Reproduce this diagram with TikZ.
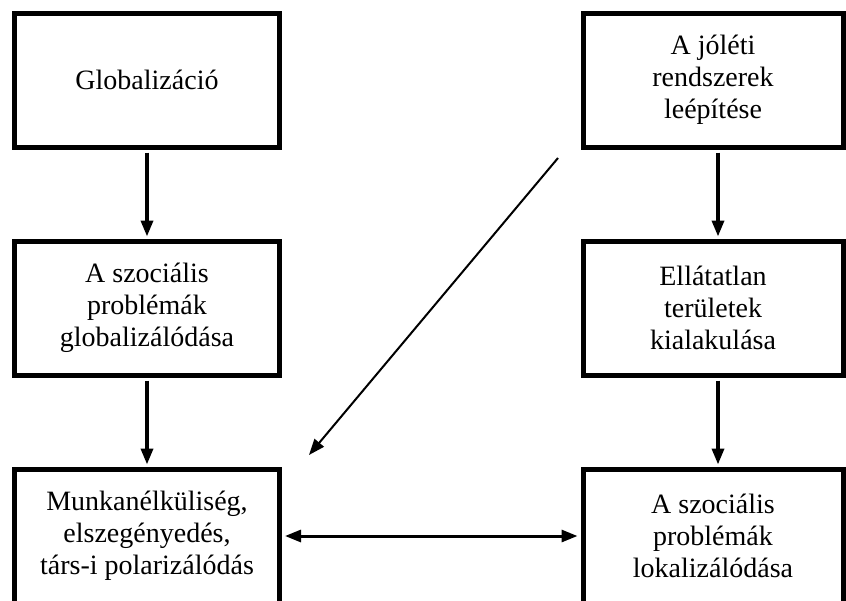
\documentclass[tikz,border=0pt]{standalone}
\usepackage{fontspec}
\setmainfont{Liberation Serif}
\usetikzlibrary{arrows.meta}
\tikzset{
  box/.style={draw, line width=5pt, minimum height=134pt, align=center, inner sep=2pt,
    font=\fontsize{28}{32}\selectfont},
  leftbox/.style={box, minimum width=265pt},
  rightbox/.style={box, minimum width=260pt},
  flow/.style={-{Triangle[length=16pt,width=12pt]}, line width=3.5pt, shorten >=2pt, shorten <=3pt},
  twoway/.style={{Triangle[length=16pt,width=12pt]}-{Triangle[length=16pt,width=12pt]}, line width=3pt, shorten >=3pt, shorten <=3pt},
}
\newcommand{\drawflow}{\draw[flow]}

\begin{document}
\begin{tikzpicture}[x=1pt,y=-1pt]
\useasboundingbox (0,0) rectangle (846,600);
\node[leftbox] (glob) at (147,80) {Globalizáció};
\node[leftbox] (szocglob) at (147,308) {A szociális\\problémák\\globalizálódása};
\node[leftbox] (munka) at (147,536) {Munkanélküliség,\\elszegényedés,\\társ-i polarizálódás};
\node[rightbox] (joleti) at (713,80) {A jóléti\\rendszerek\\leépítése};
\node[rightbox] (ellat) at (713,308) {Ellátatlan\\területek\\kialakulása};
\node[rightbox] (szoclok) at (713,536) {A szociális\\problémák\\lokalizálódása};
\coordinate (dtop) at (558,158);
\coordinate (dbot) at (309,455);
% arrows
\drawflow (glob) -- (szocglob);
\drawflow (szocglob) -- (munka);
\drawflow ([xshift=5pt]joleti.south) -- ([xshift=5pt]ellat.north);
\drawflow ([xshift=5pt]ellat.south) -- ([xshift=5pt]szoclok.north);
\draw[twoway] (munka.east) -- (szoclok.west);
\draw[flow, line width=2pt, shorten <=0pt, shorten >=0pt] (dtop) -- (dbot);
\end{tikzpicture}
\end{document}
